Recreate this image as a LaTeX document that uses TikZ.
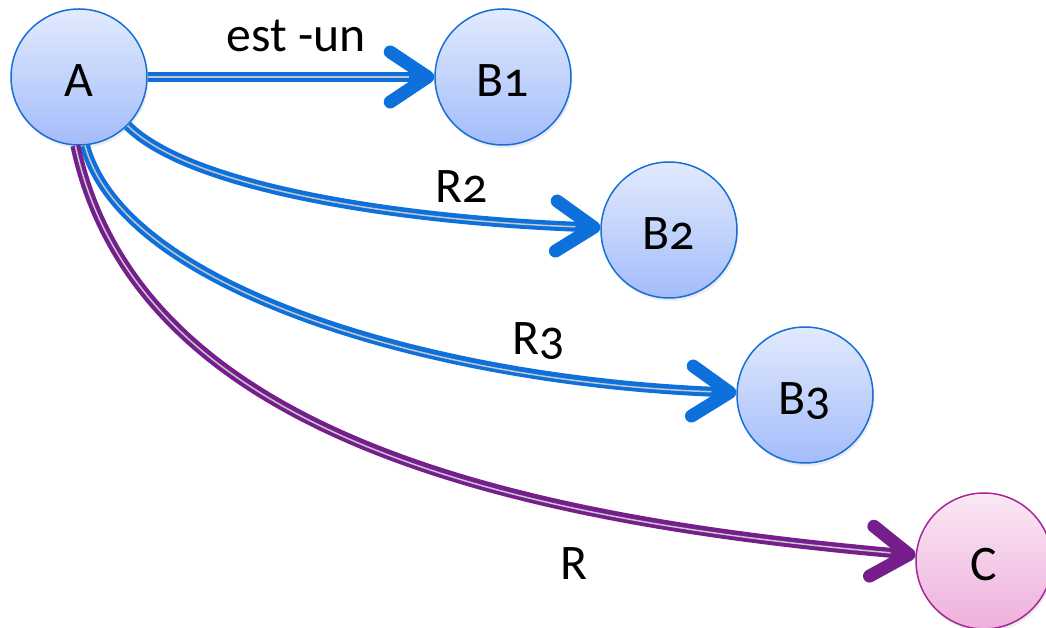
\documentclass[tikz,border=0pt]{standalone}
\usepackage{fontspec}
\setmainfont{Carlito}[Numbers=OldStyle]
\usetikzlibrary{arrows.meta,shadows}
\definecolor{relblue}{RGB}{14,112,218}
\definecolor{relpurple}{RGB}{118,30,140}
\definecolor{stripe}{RGB}{196,200,206}
\definecolor{nodetop}{RGB}{226,234,253}
\definecolor{nodebot}{RGB}{163,188,250}
\definecolor{nodeline}{RGB}{22,110,215}
\definecolor{ctop}{RGB}{250,232,245}
\definecolor{cbot}{RGB}{238,176,220}
\definecolor{cline}{RGB}{166,38,150}
\tikzset{
	concept/.style={circle, draw=nodeline, line width=0.03cm, top color=nodetop, bottom color=nodebot, minimum size=2.72cm, inner sep=0pt, text height=0.8cm, text depth=0cm, drop shadow={shadow xshift=0.03cm, shadow yshift=-0.06cm, opacity=0.15}},
	target/.style={concept, draw=cline, top color=ctop, bottom color=cbot},
	rel/.style={line width=0.2cm, -{Straight Barb[length=0.75cm, width=1.0cm, line width=0.06cm 1, round]}, postaction={draw=stripe, line width=0.03cm, -, shorten >=0.5cm}}
}
\begin{document}
\begin{tikzpicture}[font=\fontsize{28.3pt}{34pt}\selectfont]
	\useasboundingbox (0,0) rectangle (20.92,12.56);
	\node[concept] (A) at (1.58,11.02) {A};
	\node[concept] (B1) at (10.06,11.02) {B1};
	\node[concept] (B2) at (13.38,7.96) {B2};
	\node[concept] (B3) at (16.10,4.66) {B3};
	\node[target] (C) at (19.68,1.34) {C};
	\draw[rel, relblue] (A) -- (B1);
	\draw[rel, relblue] (A) to[out=-45, in=178, out looseness=0.47, in looseness=1.05] (B2);
	\draw[rel, relblue] (A.-85) to[out=-75, in=178, out looseness=0.55, in looseness=1.1] (B3);
	\draw[rel, relpurple] (A.-93) to[out=-78, in=175, out looseness=0.82, in looseness=1.09] (C);
	\node[anchor=base] (isa) at (5.92,11.52) {est -un};
	\node[anchor=base] (r2) at (9.24,8.5) {R2};
	\node[anchor=base] (r3) at (10.78,5.46) {R3};
	\node[anchor=base] (r) at (11.48,0.96) {R};
\end{tikzpicture}
\end{document}
